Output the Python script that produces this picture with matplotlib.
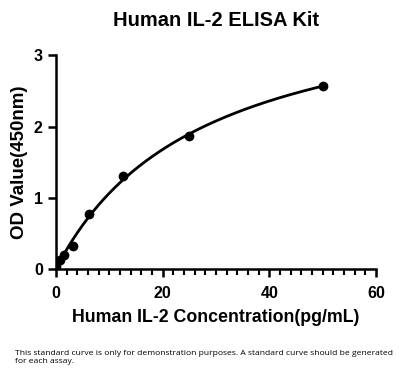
import numpy as np
import matplotlib
matplotlib.use('Agg')
from matplotlib import pyplot as plt
from matplotlib.ticker import MultipleLocator

conc = [0, 0.78, 1.56, 3.125, 6.25, 12.5, 25, 50]
od = [0.05, 0.13, 0.2, 0.32, 0.77, 1.3, 1.87, 2.57]

plt.rcParams['font.family'] = ['Liberation Sans', 'DejaVu Sans']

fig = plt.figure(figsize=(4.12, 3.78), dpi=100)
ax = fig.add_axes([0.136, 0.288, 0.777, 0.566])

# saturating fit y = a*x/(b+x) + c, grid over b, least squares for a, c
x = np.array(conc)
y = np.array(od)
best = None
for b in np.linspace(1, 200, 2000):
    A = np.column_stack([x / (b + x), np.ones_like(x)])
    p, res, _, _ = np.linalg.lstsq(A, y, rcond=None)
    err = np.sum((A @ p - y) ** 2)
    if best is None or err < best[0]:
        best = (err, b, p)
_, b, (a, c) = best
xs = np.linspace(0, 50, 200)
ax.plot(xs, a * xs / (b + xs) + c, color='black', lw=2)
ax.scatter(conc, od, s=36, color='black', zorder=3)

ax.set_xlim(0, 60)
ax.set_ylim(0, 3)
ax.xaxis.set_major_locator(MultipleLocator(20))
ax.xaxis.set_minor_locator(MultipleLocator(2))
ax.yaxis.set_major_locator(MultipleLocator(1))
for s in ['top', 'right']:
    ax.spines[s].set_visible(False)
for s in ['left', 'bottom']:
    ax.spines[s].set_linewidth(1.8)
ax.tick_params(axis='x', which='major', pad=6)
ax.tick_params(which='major', width=1.8, length=6, labelsize=11.5)
ax.tick_params(which='minor', width=1.5, length=4)
for lab in ax.get_xticklabels() + ax.get_yticklabels():
    lab.set_fontweight('bold')

ax.set_xlabel('Human IL-2 Concentration(pg/mL)', fontsize=12.8, fontweight='bold', labelpad=6)
ax.set_ylabel('OD Value(450nm)', fontsize=13.5, fontweight='bold')
fig.text(0.525, 0.945, 'Human IL-2 ELISA Kit', ha='center', va='center',
         fontsize=14.5, fontweight='bold')
fig.text(0.036, 0.055, 'This standard curve is only for demonstration purposes. A standard curve should be generated\nfor each assay.',
         fontsize=6.1, family=['Open Sans', 'DejaVu Sans'], va='center', linespacing=1.2)

fig.savefig('out.png', dpi=100, facecolor='white')
